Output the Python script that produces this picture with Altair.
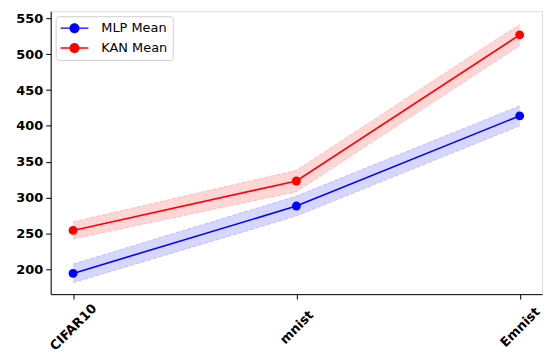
import altair as alt
import pandas as pd

datasets = ["CIFAR10", "mnist", "Emnist"]
mlp_mean = [194, 288, 414]
mlp_std = [13, 14, 14]
kan_mean = [254, 323, 527]
kan_std = [12, 15, 15]
series = ["MLP Mean", "KAN Mean"]
colors = ["#0000ff", "#ff0000"]
band_colors = ["#0000ff", "#ff0000"]

rows = []
for name, means, stds in [("MLP Mean", mlp_mean, mlp_std), ("KAN Mean", kan_mean, kan_std)]:
    for d, m, s in zip(datasets, means, stds):
        rows.append({"dataset": d, "series": name, "mean": m, "lo": m - s, "hi": m + s})
df = pd.DataFrame(rows)

font = "DejaVu Sans"
x = alt.X("dataset:N", sort=datasets, scale=alt.Scale(type="point", padding=0.1),
          axis=alt.Axis(title=None, labelAngle=-45, labelAlign="center", labelBaseline="middle",
                        labelPadding=28, tickSize=5, labelFontWeight="bold", labelFontSize=13,
                        labelFont=font, labelColor="black", domainColor="black", tickColor="black"))
yscale = alt.Scale(domain=[165, 560], nice=False, zero=False)
yaxis = alt.Axis(title=None, values=[200, 250, 300, 350, 400, 450, 500, 550], tickSize=5,
                 labelPadding=3, labelFontWeight="bold", labelFontSize=13, labelFont=font,
                 labelColor="black", domainColor="black", tickColor="black", grid=False)

base = alt.Chart(df)

band = base.mark_area(opacity=0.16).encode(
    x=x,
    y=alt.Y("lo:Q", scale=yscale, axis=yaxis),
    y2="hi:Q",
    fill=alt.Fill("series:N", scale=alt.Scale(domain=series, range=band_colors), legend=None),
)
edge_lo = base.mark_line(opacity=0.18, strokeDash=[4, 2], strokeWidth=1).encode(
    x=x, y=alt.Y("lo:Q", scale=yscale),
    stroke=alt.Stroke("series:N", scale=alt.Scale(domain=series, range=colors), legend=None),
)
edge_hi = base.mark_line(opacity=0.18, strokeDash=[4, 2], strokeWidth=1).encode(
    x=x, y=alt.Y("hi:Q", scale=yscale),
    stroke=alt.Stroke("series:N", scale=alt.Scale(domain=series, range=colors), legend=None),
)
line = base.mark_line(strokeWidth=1.6).encode(
    x=x, y=alt.Y("mean:Q", scale=yscale),
    stroke=alt.Stroke("series:N", scale=alt.Scale(domain=series, range=colors), legend=None),
)
sym = ("M-2,-0.1L2,-0.1L2,0.1L-2,0.1Z "
       "M0.72,0A0.72,0.72 0 1,1 -0.72,0A0.72,0.72 0 1,1 0.72,0Z")
legend_opts = dict(title=None, orient="top-left", symbolSize=196, symbolStrokeWidth=0,
                   symbolOffset=7, labelOffset=20, labelFont=font, labelFontSize=13,
                   labelColor="black", strokeColor="#d0d0d0", fillColor="white",
                   cornerRadius=3, padding=5, offset=5, rowPadding=6)
legend_layer = base.mark_point(filled=True, opacity=1).encode(
    x=x, y=alt.Y("mean:Q", scale=yscale),
    shape=alt.Shape("series:N", scale=alt.Scale(domain=series, range=[sym, sym]),
                    legend=alt.Legend(**legend_opts)),
    color=alt.Color("series:N", scale=alt.Scale(domain=series, range=colors),
                    legend=alt.Legend(**legend_opts)),
).transform_filter("false")
points = base.mark_circle(opacity=1, size=80).encode(
    x=x, y=alt.Y("mean:Q", scale=yscale),
    fill=alt.Fill("series:N", scale=alt.Scale(domain=series, range=colors), legend=None),
)

chart = alt.layer(band, edge_lo, edge_hi, line, legend_layer, points).resolve_legend(
    fill="independent", stroke="independent", color="independent", shape="independent"
).properties(
    width=495, height=285,
    autosize=alt.AutoSizeParams(type="none"),
    padding={"left": 43, "top": 2, "right": 5, "bottom": 58},
).configure_view(stroke="black", strokeWidth=1).configure(background="white")

chart.save("out.html", embed_options={"renderer": "svg", "actions": False})
